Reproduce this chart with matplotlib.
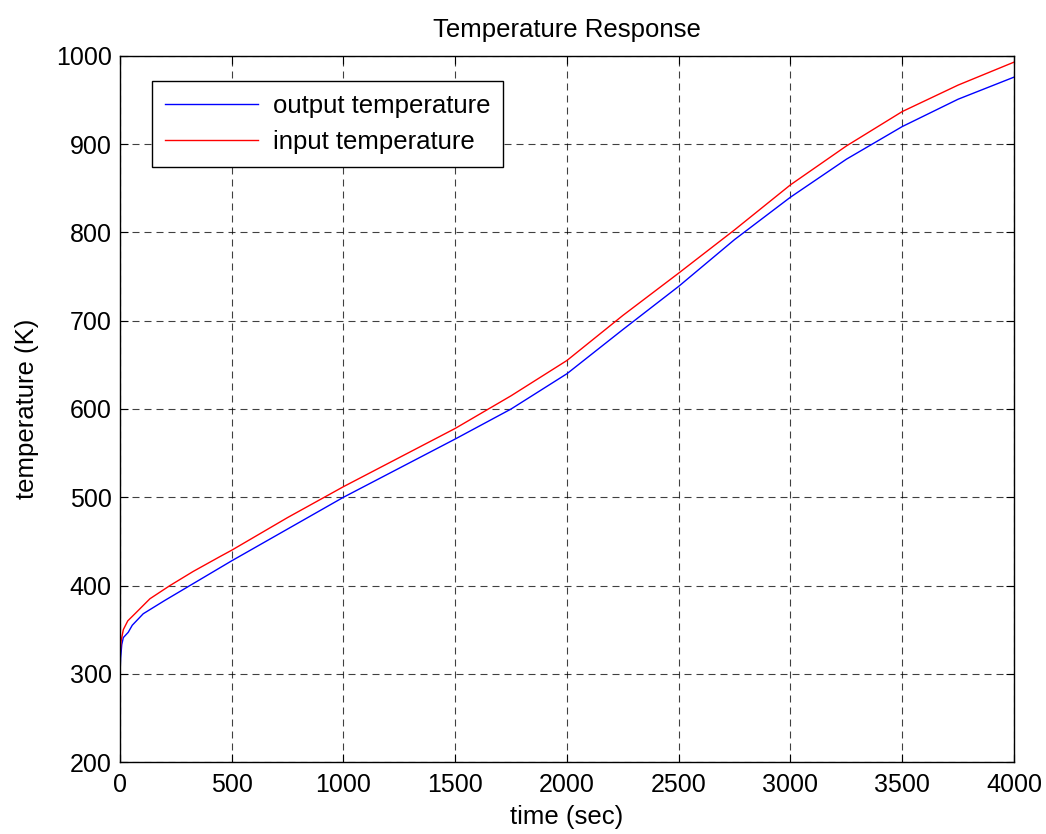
import matplotlib
matplotlib.use('Agg')
import matplotlib.pyplot as plt

# values (time in sec, temperature in K)
t_out = [0, 3, 8, 15, 37, 55, 104, 200, 300, 400, 500, 750, 1000, 1250,
         1500, 1750, 2000, 2250, 2500, 2750, 3000, 3250, 3500, 3750, 4000]
T_out = [300, 318, 333, 341, 347, 355, 368, 383, 398, 413, 428, 464, 500, 533,
         566, 600, 640, 690, 739, 792, 840, 883, 920, 951, 976]

t_in = [0, 3, 5, 15, 35, 67, 134, 224, 328, 449, 500, 750, 1000, 1250, 1500,
        1750, 2000, 2250, 2500, 2750, 3000, 3250, 3500, 3750, 4000]
T_in = [320, 330, 337, 350, 360, 368, 385, 400, 416, 433, 440, 477, 512, 545, 578,
        615, 655, 706, 754, 803, 854, 898, 937, 967, 993]

xticks = [0, 500, 1000, 1500, 2000, 2500, 3000, 3500, 4000]
yticks = [200, 300, 400, 500, 600, 700, 800, 900, 1000]

plt.rcParams['font.family'] = ['Liberation Sans', 'DejaVu Sans']

fig = plt.figure(figsize=(10.46, 8.34), dpi=100, facecolor='w')
ax = fig.add_axes([0.1147, 0.0863, 0.8547, 0.8466])

ax.plot(t_out, T_out, color='#0000ff', linewidth=1.0, label='output temperature')
ax.plot(t_in, T_in, color='#ff0000', linewidth=1.0, label='input temperature')

ax.set_xlim(0, 4000)
ax.set_ylim(200, 1000)
ax.set_xticks(xticks)
ax.set_yticks(yticks)
ax.tick_params(direction='in', top=True, right=True, length=6, labelsize=18)
ax.tick_params(axis='x', pad=8)
ax.tick_params(axis='y', pad=6)
ax.grid(True, color='black', linestyle=(0, (6.3, 4.5)), linewidth=0.8, alpha=0.75)
for s in ax.spines.values():
    s.set_linewidth(1.0)

ax.set_title('Temperature Response', fontsize=18.5, pad=14)
ax.set_xlabel('time (sec)', fontsize=18.5, labelpad=6)
ax.set_ylabel('temperature (K)', fontsize=18.5, labelpad=12)

leg = ax.legend(loc='upper left', bbox_to_anchor=(0.036, 0.965), borderaxespad=0,
                fontsize=18.5, fancybox=False, framealpha=1, edgecolor='black',
                handlelength=3.6, borderpad=0.5, labelspacing=0.5, handletextpad=0.6)
leg.get_frame().set_linewidth(1.0)

plt.savefig('out.png', dpi=100)
